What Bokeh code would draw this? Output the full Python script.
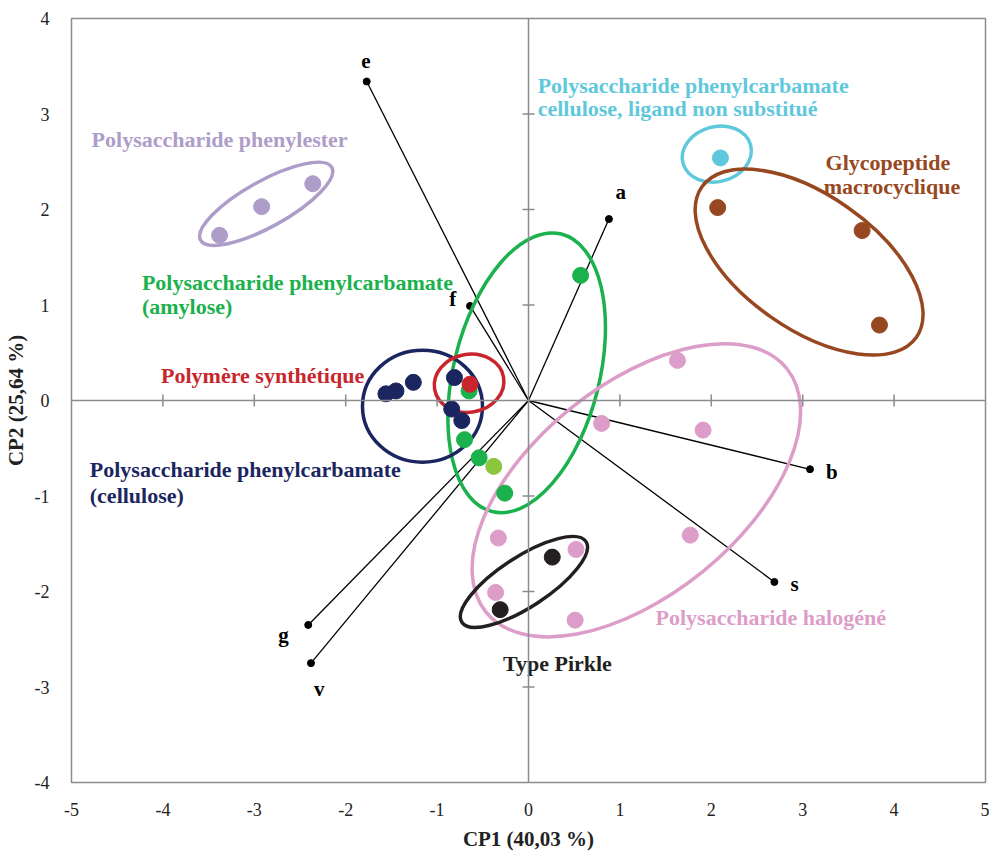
import numpy as np
from bokeh.plotting import figure
from bokeh.models import Span, FixedTicker, ColumnDataSource, PrintfTickFormatter
from bokeh.core.properties import value
from bokeh.embed import file_html
from bokeh.resources import INLINE

# ---------------- data ----------------
x_ticks = [-5, -4, -3, -2, -1, 0, 1, 2, 3, 4, 5]
y_ticks = [-4, -3, -2, -1, 0, 1, 2, 3, 4]

# score points per group (CP1, CP2)
phenylester_x = [-3.38, -2.92, -2.36]
phenylester_y = [1.73, 2.03, 2.27]
cyan_x = [2.10]
cyan_y = [2.54]
glyco_x = [2.07, 3.65, 3.84]
glyco_y = [2.02, 1.78, 0.79]
navy_x = [-1.56, -1.45, -1.26, -0.81, -0.84, -0.73]
navy_y = [0.07, 0.10, 0.19, 0.24, -0.09, -0.21]
green_x = [-0.65, -0.70, -0.54, -0.26, 0.57]
green_y = [0.10, -0.41, -0.60, -0.97, 1.31]
lightgreen_x = [-0.38]
lightgreen_y = [-0.69]
red_x = [-0.64]
red_y = [0.17]
pink_x = [1.63, 0.80, 1.91, 1.77, -0.33, 0.52, -0.36, 0.51]
pink_y = [0.42, -0.24, -0.31, -1.41, -1.44, -1.56, -2.01, -2.30]
pirkle_x = [0.26, -0.31]
pirkle_y = [-1.64, -2.19]

# loading vectors
vec_names = ["e", "a", "f", "b", "s", "g", "v"]
vec_x = [-1.77, 0.88, -0.64, 3.08, 2.69, -2.41, -2.38]
vec_y = [3.34, 1.90, 0.99, -0.72, -1.90, -2.35, -2.75]

# ---------------- styles ----------------
C_PURPLE = "#ae9dc8"
C_CYAN = "#5fc8dc"
C_BROWN = "#974821"
C_GREEN = "#1bb14c"
C_LGREEN = "#8cc63f"
C_RED = "#c9252c"
C_NAVY = "#1b2660"
C_PINK = "#dc9dc9"
C_BLACK = "#231f20"
GRAY = "#8c8c8c"
FONT = "Liberation Serif"

p = figure(frame_width=914, frame_height=764, x_range=(-5, 5), y_range=(-4, 4),
           output_backend="svg", toolbar_location=None,
           min_border_left=66, min_border_right=4, min_border_top=18, min_border_bottom=60)
p.background_fill_color = "white"
p.border_fill_color = "white"
p.outline_line_color = GRAY
p.outline_line_width = 1.5
p.xgrid.visible = False
p.ygrid.visible = False

for ax in (p.xaxis[0], p.yaxis[0]):
    ax.axis_line_color = None
    ax.major_tick_line_color = None
    ax.minor_tick_line_color = None
    ax.major_label_text_font = FONT
    ax.major_label_text_font_size = "18px"
    ax.major_label_text_color = "#222222"
    ax.axis_label_text_font = FONT
    ax.axis_label_text_font_size = "21px"
    ax.axis_label_text_font_style = "bold"
    ax.axis_label_text_color = "#222222"
    ax.formatter = PrintfTickFormatter(format="%d")
p.xaxis.ticker = FixedTicker(ticks=x_ticks)
p.yaxis.ticker = FixedTicker(ticks=y_ticks)
p.xaxis.major_label_standoff = 14
p.yaxis.major_label_standoff = 16
p.xaxis.axis_label = "CP1 (40,03 %)"
p.yaxis.axis_label = "CP2 (25,64 %)"
p.xaxis.axis_label_standoff = 8
p.yaxis.axis_label_standoff = 4

# zero lines
p.add_layout(Span(location=0, dimension="height", line_color=GRAY, line_width=1.5))
p.add_layout(Span(location=0, dimension="width", line_color=GRAY, line_width=1.5))
# crossing ticks on zero lines
xt = [t for t in x_ticks if t not in (-5, 0, 5)]
yt = [t for t in y_ticks if t not in (-4, 0, 4)]
p.scatter(xt, [0] * len(xt), marker="dash", size=12, angle=np.pi / 2,
          line_color=GRAY, line_width=1.5)
p.scatter([0] * len(yt), yt, marker="dash", size=12, line_color=GRAY, line_width=1.5)

# loading vectors
p.segment(x0=[0] * len(vec_x), y0=[0] * len(vec_y), x1=vec_x, y1=vec_y,
          line_color="black", line_width=1.3)
p.scatter(vec_x, vec_y, size=7, color="black")

# ellipses (screen-unit sizes): cx, cy, width, height, angle(deg), color
ellipses = [
    (-2.87, 2.06, 150, 46, 29, C_PURPLE),
    (2.06, 2.58, 70, 55, 15, C_CYAN),
    (3.07, 1.45, 262, 134, -35, C_BROWN),
    (-0.02, 0.29, 286, 146, 76, C_GREEN),
    (-1.16, -0.06, 120, 112, 0, C_NAVY),
    (-0.65, 0.18, 70, 58, 10, C_RED),
    (1.18, -0.94, 387, 210, 39, C_PINK),
    (-0.05, -1.90, 148, 50, 33, C_BLACK),
]
for cx, cy, w, h, a, c in ellipses:
    p.ellipse(x=[cx], y=[cy], width=[w], height=[h], angle=[np.deg2rad(a)],
              width_units="screen", height_units="screen",
              fill_alpha=0, line_color=c, line_width=3.5)

# points
groups = [
    (phenylester_x, phenylester_y, C_PURPLE),
    (cyan_x, cyan_y, C_CYAN),
    (glyco_x, glyco_y, C_BROWN),
    (navy_x, navy_y, C_NAVY),
    (green_x, green_y, C_GREEN),
    (lightgreen_x, lightgreen_y, C_LGREEN),
    (red_x, red_y, C_RED),
    (pink_x, pink_y, C_PINK),
    (pirkle_x, pirkle_y, C_BLACK),
]
for gx, gy, c in groups:
    p.scatter(gx, gy, size=16, color=c)

# group labels
labels = [
    (-4.78, 2.73, "Polysaccharide phenylester", C_PURPLE),
    (0.10, 3.30, "Polysaccharide phenylcarbamate", C_CYAN),
    (0.10, 3.06, "cellulose, ligand non substitué", C_CYAN),
    (3.25, 2.49, "Glycopeptide", C_BROWN),
    (3.23, 2.24, "macrocyclique", C_BROWN),
    (-4.23, 1.24, "Polysaccharide phenylcarbamate", C_GREEN),
    (-4.23, 0.98, "(amylose)", C_GREEN),
    (-4.02, 0.26, "Polymère synthétique", C_RED),
    (-4.80, -0.72, "Polysaccharide phenylcarbamate", C_NAVY),
    (-4.80, -0.99, "(cellulose)", C_NAVY),
    (1.39, -2.27, "Polysaccharide halogéné", C_PINK),
    (-0.28, -2.75, "Type Pirkle", C_BLACK),
]
lsrc = ColumnDataSource(dict(x=[l[0] for l in labels], y=[l[1] for l in labels],
                             t=[l[2] for l in labels], c=[l[3] for l in labels]))
p.text(x="x", y="y", text="t", text_color="c", source=lsrc,
       text_font=value(FONT), text_font_size="22px", text_font_style="bold",
       text_align="left", text_baseline="middle")

# vector labels
vlab_x = [-1.78, 1.01, -0.83, 3.32, 2.91, -2.68, -2.29]
vlab_y = [3.56, 2.18, 1.06, -0.75, -1.92, -2.46, -3.02]
p.text(x=vlab_x, y=vlab_y, text=vec_names, text_color="black",
       text_font=value(FONT), text_font_size="21px", text_font_style="bold",
       text_align="center", text_baseline="middle")

open("out.html", "w").write(file_html(p, INLINE))
